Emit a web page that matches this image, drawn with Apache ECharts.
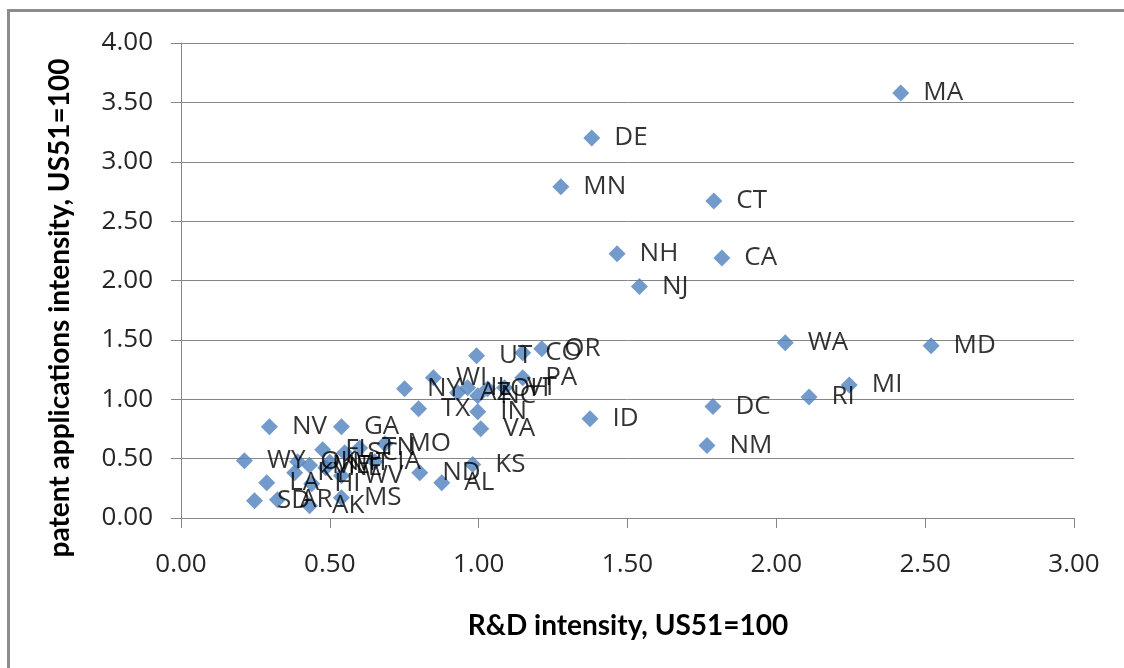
<!DOCTYPE html>
<html>
<head>
<meta charset="utf-8">
<script src="https://cdn.jsdelivr.net/npm/echarts@6/dist/echarts.min.js"></script>
<style>
html,body{margin:0;padding:0;background:#fff;overflow:hidden;}
#chart{width:1124px;height:668px;}
</style>
</head>
<body>
<div id="chart"></div>
<script>
// State codes
var states = ["MA","DE","MN","CT","NH","CA","NJ","WA","MD","MI","RI","DC","NM","ID",
  "UT","CO","OR","PA","VT","OH","NC","IL","AZ","WI","NY","TX","IN","VA","KS","ND","AL",
  "NV","GA","FL","SC","TN","MO","IA","WY","OK","ME","NE","MT","KY","LA","HI","WV",
  "SD","AR","AK","MS"];
// R&D intensity, US51=100 (x)
var rdIntensity = [2.418,1.38,1.276,1.79,1.465,1.817,1.54,2.03,2.52,2.245,2.11,1.787,1.767,1.374,
  0.993,1.148,1.212,1.148,1.087,1.030,0.997,0.963,0.929,0.848,0.751,0.798,0.997,1.007,0.980,0.802,0.876,
  0.297,0.539,0.476,0.55,0.60,0.685,0.651,0.213,0.392,0.432,0.486,0.50,0.382,0.288,0.439,0.539,
  0.247,0.324,0.432,0.539];
// Patent applications intensity, US51=100 (y)
var patentIntensity = [3.58,3.20,2.79,2.67,2.225,2.19,1.95,1.475,1.45,1.12,1.02,0.94,0.61,0.836,
  1.367,1.392,1.426,1.181,1.097,1.089,1.030,1.097,1.055,1.181,1.089,0.920,0.895,0.752,0.45,0.382,0.297,
  0.769,0.769,0.575,0.55,0.59,0.625,0.473,0.483,0.473,0.445,0.423,0.47,0.382,0.297,0.288,0.356,
  0.146,0.153,0.103,0.17];
var xTitle = "R&D intensity, US51=100";
var yTitle = "patent applications intensity, US51=100";

var points = states.map(function(s,i){ return {name:s, value:[rdIntensity[i], patentIntensity[i]]}; });

var chart = echarts.init(document.getElementById('chart'), null, {renderer:'canvas'});
var grey = '#868686';
var tickFont = {fontFamily:'Open Sans', fontSize:26, color:'#262626'};
chart.setOption({
  animation:false,
  backgroundColor:'#fff',
  grid:{left:181, right:50, top:43, bottom:150},
  xAxis:{
    type:'value', min:0, max:3, interval:0.5,
    axisLine:{show:true, lineStyle:{color:grey, width:1}},
    axisTick:{show:true, length:10, inside:false, lineStyle:{color:grey}},
    splitLine:{show:false},
    axisLabel:Object.assign({margin:34, formatter:function(v){return v.toFixed(2);}}, tickFont)
  },
  yAxis:{
    type:'value', min:0, max:4, interval:0.5,
    axisLine:{show:true, lineStyle:{color:grey, width:1}},
    axisTick:{show:true, length:10, inside:false, lineStyle:{color:grey}},
    splitLine:{show:true, lineStyle:{color:grey, width:1}},
    axisLabel:Object.assign({margin:28, formatter:function(v){return v.toFixed(2);}}, tickFont)
  },
  series:[{
    type:'scatter',
    symbol:'diamond',
    symbolSize:[17,17],
    itemStyle:{color:'#4F81BD'},
    data:points,
    label:{show:true, position:'right', distance:14, formatter:'{b}',
      fontFamily:'Open Sans', fontSize:26, color:'#000'},
    labelLayout:{hideOverlap:false}
  }],
  graphic:[
    {type:'line', shape:{x1:8.5, y1:9, x2:8.5, y2:668},
     style:{stroke:'#8c8c8c', lineWidth:3}, silent:true, z:-1},
    {type:'line', shape:{x1:7, y1:10.5, x2:1124, y2:10.5},
     style:{stroke:'#8c8c8c', lineWidth:3}, silent:true, z:-1},
    {type:'text', x:628, y:626, style:{text:xTitle, font:'bold 28px Lato', fill:'#000',
      textAlign:'center', textVerticalAlign:'middle'}},
    {type:'text', x:60, y:308, rotation:Math.PI/2, style:{text:yTitle, font:'bold 28px Lato', fill:'#000',
      textAlign:'center', textVerticalAlign:'middle'}}
  ]
});
</script>
</body>
</html>
